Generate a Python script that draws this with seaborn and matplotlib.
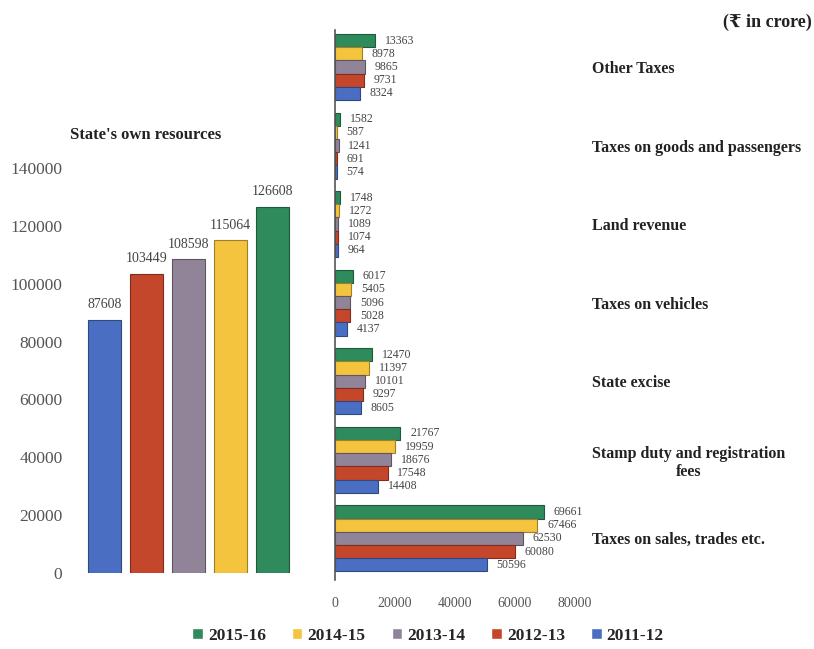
import textwrap
import numpy as np
import pandas as pd
import matplotlib
matplotlib.use("Agg")
import matplotlib.pyplot as plt
import matplotlib.colors as mcolors
import seaborn as sns

# ---- data (₹ in crore) ----
years = ["2011-12", "2012-13", "2013-14", "2014-15", "2015-16"]
own_resources = [87608, 103449, 108598, 115064, 126608]

categories = [
    "Other Taxes",
    "Taxes on goods and passengers",
    "Land revenue",
    "Taxes on vehicles",
    "State excise",
    "Stamp duty and registration fees",
    "Taxes on sales, trades etc.",
]
# one list per year, in the order of `categories`
tax_2011_12 = [8324, 574, 964, 4137, 8605, 14408, 50596]
tax_2012_13 = [9731, 691, 1074, 5028, 9297, 17548, 60080]
tax_2013_14 = [9865, 1241, 1089, 5096, 10101, 18676, 62530]
tax_2014_15 = [8978, 587, 1272, 5405, 11397, 19959, 67466]
tax_2015_16 = [13363, 1582, 1748, 6017, 12470, 21767, 69661]

# ---- styling ----
sns.set_theme(style="white")
plt.rcParams["font.family"] = ["Liberation Serif", "DejaVu Serif", "DejaVu Sans"]

palette = {
    "2011-12": "#4a6fc2",
    "2012-13": "#c4472c",
    "2013-14": "#928498",
    "2014-15": "#f4c43e",
    "2015-16": "#2f8a5c",
}
edge = {k: tuple(np.array(mcolors.to_rgb(v)) * 0.65) for k, v in palette.items()}
legend_order = ["2015-16", "2014-15", "2013-14", "2012-13", "2011-12"]
tick_grey = "#555555"

fig = plt.figure(figsize=(8.14, 6.49), dpi=100)

# ---- left: State's own resources ----
ax1 = fig.add_axes([75 / 814, 1 - 573 / 649, 225 / 814, 405 / 649])
own_df = pd.DataFrame({"year": years, "value": own_resources})
sns.barplot(data=own_df, x="year", y="value", hue="year", order=years,
            hue_order=years, palette=palette, width=0.79, legend=False,
            saturation=1, ax=ax1)
for cont, yr in zip(ax1.containers, years):
    for bar in cont:
        bar.set_edgecolor(edge[yr])
        bar.set_linewidth(0.8)
    ax1.bar_label(cont, fmt="{:.0f}", padding=6, fontsize=10, color="#444444")
ax1.set_ylim(0, 140000)
ax1.set_xlim(-0.71, 4.65)
ax1.set_yticks(np.arange(0, 140001, 20000))
ax1.tick_params(axis="y", labelsize=12.5, labelcolor=tick_grey, length=0, pad=9)
ax1.set_xticks([])
ax1.set_xlabel("")
ax1.set_ylabel("")
for s in ax1.spines.values():
    s.set_visible(False)
fig.text(70 / 814, 1 - 135 / 649, "State's own resources", fontsize=12,
         fontweight="bold", color="#222222", va="center", ha="left")

# ---- right: components ----
ax2 = fig.add_axes([335 / 814, 1 - 580 / 649, 240 / 814, 550 / 649])
series = {
    "2011-12": tax_2011_12,
    "2012-13": tax_2012_13,
    "2013-14": tax_2013_14,
    "2014-15": tax_2014_15,
    "2015-16": tax_2015_16,
}
comp_df = pd.DataFrame(
    [(c, yr, v) for yr, vals in series.items() for c, v in zip(categories, vals)],
    columns=["category", "year", "value"],
)
sns.barplot(data=comp_df, y="category", x="value", hue="year", order=categories,
            hue_order=legend_order, palette=palette, width=0.84, orient="h",
            saturation=1, ax=ax2)
for cont, yr in zip(ax2.containers, legend_order):
    for bar in cont:
        bar.set_edgecolor(edge[yr])
        bar.set_linewidth(0.8)
    ax2.bar_label(cont, fmt="{:.0f}", padding=7, fontsize=8.5, color="#444444")

handles, labels = ax2.get_legend_handles_labels()
ax2.get_legend().remove()

ax2.set_xlim(0, 80000)
ax2.set_ylim(6.53, -0.47)
ax2.set_xticks(np.arange(0, 80001, 20000))
ax2.tick_params(axis="x", labelsize=10, labelcolor=tick_grey, length=0, pad=12)
ax2.yaxis.tick_right()
ax2.set_yticks(range(len(categories)))
ax2.set_yticklabels([textwrap.fill(c, 30) for c in categories])
ax2.tick_params(axis="y", length=0, pad=12, labelsize=11.5, labelcolor="#222222")
for t in ax2.get_yticklabels():
    t.set_fontweight("bold")
    t.set_multialignment("center")
ax2.set_xlabel("")
ax2.set_ylabel("")
for name, s in ax2.spines.items():
    s.set_visible(name == "left")
ax2.spines["left"].set_color("#555555")
ax2.spines["left"].set_linewidth(1.2)

fig.text(812 / 814, 1 - 22 / 649, "(₹ in crore)", fontsize=13, fontweight="bold",
         color="#222222", ha="right", va="center")

fig.legend(handles, labels, loc="center", bbox_to_anchor=(428 / 814, 1 - 636 / 649),
           ncol=5, frameon=False, handlelength=0.6, handleheight=0.6,
           handletextpad=0.3, columnspacing=1.5,
           prop={"size": 12.5, "weight": "bold"})

fig.savefig("out.png", dpi=100)
